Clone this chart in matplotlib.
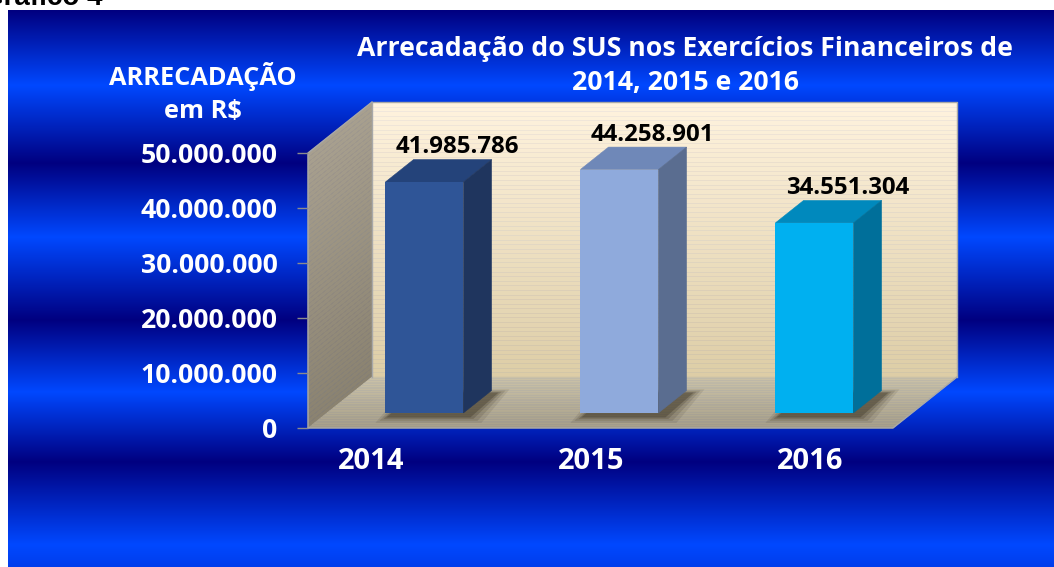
import numpy as np
import matplotlib.pyplot as plt
from matplotlib.patches import Polygon
from matplotlib.transforms import Affine2D, IdentityTransform
from matplotlib.colors import to_rgb

plt.rcParams['font.family'] = ['Open Sans', 'DejaVu Sans']
plt.rcParams['font.weight'] = 'bold'

# data
years = ['2014', '2015', '2016']
arrecadacao = [41985786, 44258901, 34551304]
yticks = [0, 10000000, 20000000, 30000000, 40000000, 50000000]
front_colors = ['#2F5597', '#8FAADC', '#00B0F0']
top_colors = ['#24437A', '#6F88B8', '#0089BD']
side_colors = ['#1F355E', '#5A6D90', '#006F9A']

W, H = 1054, 567
fig = plt.figure(figsize=(W / 100, H / 100), dpi=100)
fig.patch.set_facecolor('white')

# blue banded background
bg = fig.add_axes([0, 0, 1, 1])
bg.set_xlim(0, W)
bg.set_ylim(H, 0)
bg.axis('off')
ys = np.arange(10, H + 1)
t = np.interp(ys, [10, 85, 163, 237, 320, 392, 462, 545, 567],
              [0, 1, 0, 1, 0, 1, 0, 1, 0.85])
dark = np.array([0, 0, 0x80]) / 255
bright = np.array([0, 0x48, 0xFF]) / 255
grad = dark + t[:, None] * (bright - dark)
bg.imshow(np.repeat(grad[:, None, :], 2, axis=1), extent=[8, W, H, 10],
          aspect='auto', interpolation='bilinear')

fig.text(103 / W, 1 - 5 / H, 'Gráfico 4', ha='right', va='baseline',
         fontsize=20, fontweight='bold', family='Liberation Sans', color='black')

# main axes = front plane of the 3d box
ax = fig.add_axes([308 / W, 1 - 428 / H, 585 / W, 275 / H])
ax.set_xlim(-0.5, 2.5)
ax.set_ylim(0, 50000000)
ax.patch.set_alpha(0)
for s in ax.spines.values():
    s.set_visible(False)

DEPTH = np.array([64.0, 51.0])  # pixel offset of full box depth
DB = 0.295   # depth where bars start
BD = 0.44    # bar depth


def proj(x, y, d):
    return ax.transData.transform((x, y)) + d * DEPTH


def face(pts, color, z, ec=None, lw=0.4, alpha=1.0):
    p = Polygon(np.array(pts), closed=True, facecolor=color,
                edgecolor=color if ec is None else ec, lw=lw, alpha=alpha,
                transform=IdentityTransform(), clip_on=False, zorder=z)
    ax.add_patch(p)


def mix(c1, c2, f):
    a, b = np.array(to_rgb(c1)), np.array(to_rgb(c2))
    return a + (b - a) * f


ymax = 50000000
n = 60
for k in range(n):
    ya, yb = ymax * k / n, ymax * (k + 1) / n
    c = mix('#DDCDA6', '#FFF3DE', (k + 0.5) / n)
    face([proj(-0.5, ya, 1), proj(2.5, ya, 1), proj(2.5, yb, 1), proj(-0.5, yb, 1)], c, 0.5)
    c = mix('#8A8270', '#A8A08F', (k + 0.5) / n)
    face([proj(-0.5, ya, 0), proj(-0.5, ya, 1), proj(-0.5, yb, 1), proj(-0.5, yb, 0)], c, 0.6)
for k in range(30):
    da, db = k / 30, (k + 1) / 30
    c = mix('#A79F88', '#CBC2A8', (k + 0.5) / 30)
    face([proj(-0.5, 0, da), proj(2.5, 0, da), proj(2.5, 0, db), proj(-0.5, 0, db)], c, 0.7)

# box outlines
edge = '#A8A8A8'
for pts in ([proj(-0.5, 0, 1), proj(-0.5, ymax, 1), proj(2.5, ymax, 1), proj(2.5, 0, 1)],
            [proj(-0.5, 0, 0), proj(-0.5, ymax, 0), proj(-0.5, ymax, 1)],
            [proj(-0.5, 0, 0), proj(2.5, 0, 0), proj(2.5, 0, 1)]):
    pts = np.array(pts)
    ax.plot(pts[:, 0], pts[:, 1], color=edge, lw=1, transform=IdentityTransform(),
            clip_on=False, zorder=0.8)

# soft shadows under bars
w = 0.4
for i, v in enumerate(arrecadacao):
    base = np.array([proj(i - w / 2, 0, DB), proj(i + w / 2, 0, DB),
                     proj(i + w / 2, 0, DB + BD), proj(i - w / 2, 0, DB + BD)])
    for grow, a in [(14, 0.1), (10, 0.14), (6, 0.2), (3, 0.28)]:
        off = np.array([[-grow, -grow * 0.5], [grow, -grow * 0.5],
                        [grow, grow * 0.3], [-grow, grow * 0.3]]) + np.array([4, -3])
        face(base + off, '#2A2212', 0.9, lw=0, alpha=a)

# bars: front faces through ax.bar, top and side faces projected
bars = ax.bar(range(len(years)), arrecadacao, width=w, color=front_colors, zorder=3,
              transform=ax.transData + Affine2D().translate(*(DB * DEPTH)))
for i, v in enumerate(arrecadacao):
    face([proj(i - w / 2, v, DB), proj(i + w / 2, v, DB),
          proj(i + w / 2, v, DB + BD), proj(i - w / 2, v, DB + BD)], top_colors[i], 2.5)
    face([proj(i + w / 2, 0, DB), proj(i + w / 2, v, DB),
          proj(i + w / 2, v, DB + BD), proj(i + w / 2, 0, DB + BD)], side_colors[i], 2.5)
    ax.annotate(f'{v:,}'.replace(',', '.'), xy=(i, v), xytext=(52, 50),
                textcoords='offset pixels', ha='center', va='center',
                fontsize=17.3, fontweight='bold', color='black', zorder=5,
                annotation_clip=False)

ax.set_xlim(-0.5, 2.5)
ax.set_ylim(0, ymax)
ax.set_xticks([])
ax.set_yticks(yticks, [f'{v:,}'.replace(',', '.') for v in yticks])
ax.tick_params(axis='y', length=8, width=1, color='#8C8C8C', pad=14,
               labelsize=19.2, labelcolor='white')

# year labels (spread a little wider than the bars, as in the 3d projection)
ax2 = fig.add_axes(ax.get_position(), frameon=False)
ax2.set_xlim(-0.289, 2.376)
ax2.set_ylim(0, 1)
ax2.set_yticks([])
ax2.set_xticks(range(len(years)), years)
ax2.tick_params(axis='x', length=0, pad=14, labelsize=21, labelcolor='white')
ax2.patch.set_alpha(0)

fig.text(203 / W, 1 - 93 / H, 'ARRECADAÇÃO\nem R$', ha='center', va='center',
         fontsize=18.3, color='white', linespacing=1.45)
fig.text(685 / W, 1 - 66 / H,
         'Arrecadação do SUS nos Exercícios Financeiros de\n2014, 2015 e 2016',
         ha='center', va='center', fontsize=19.2, color='white', linespacing=1.42)

fig.savefig('out.png', dpi=100)
